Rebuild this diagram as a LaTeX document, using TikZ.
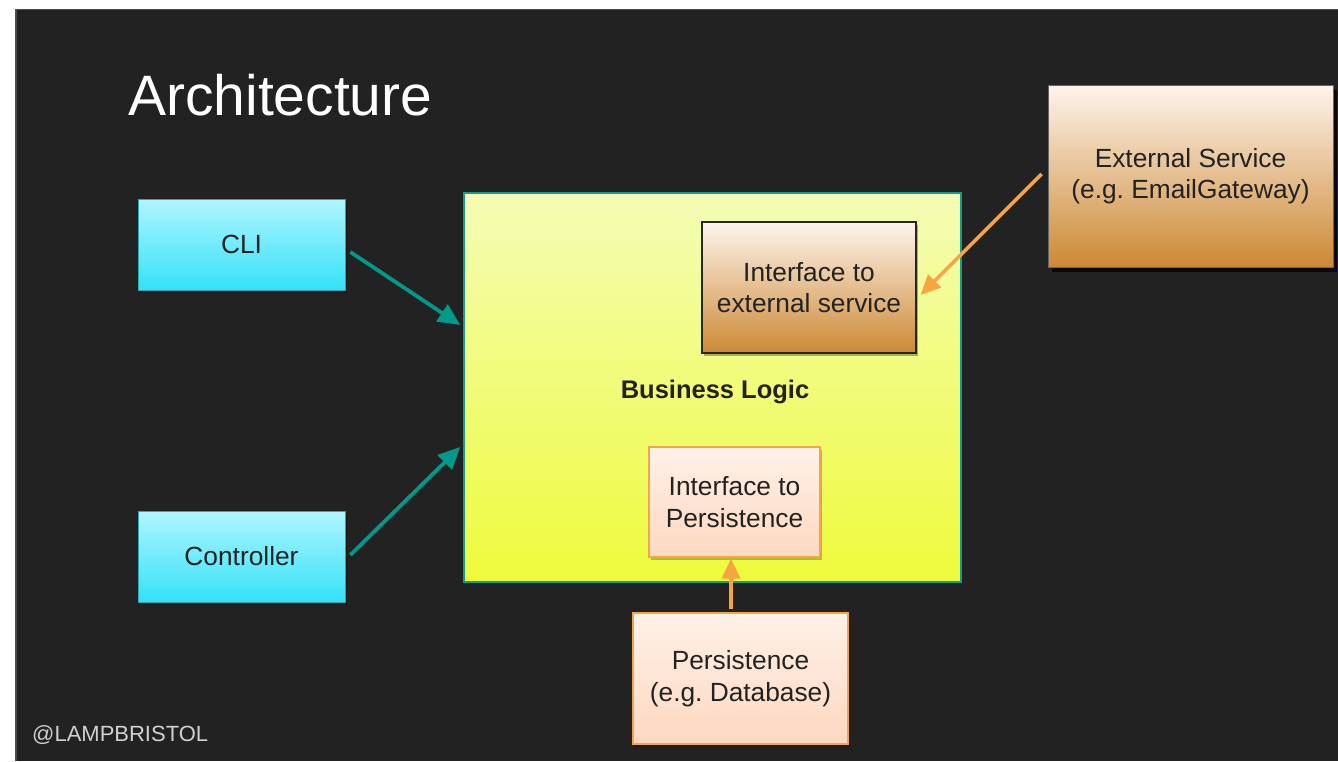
\documentclass[tikz,border=0pt]{standalone}
\usepackage{fontspec}
\setmainfont{Liberation Sans}
\frenchspacing
\usetikzlibrary{arrows.meta,shadows,calc}

\definecolor{slatebg}{HTML}{222222}
\definecolor{cyantop}{HTML}{B0F6FF}
\definecolor{cyanbot}{HTML}{33E1F7}
\definecolor{cyanline}{HTML}{2AA8B4}
\definecolor{limetop}{HTML}{F4FCB6}
\definecolor{limebot}{HTML}{EEFB3B}
\definecolor{tealline}{HTML}{149C8C}
\definecolor{tantop}{HTML}{FEF4EC}
\definecolor{tanbot}{HTML}{CC8934}
\definecolor{peachtop}{HTML}{FFF1E8}
\definecolor{peachbot}{HTML}{FDD8C0}
\definecolor{peachline}{HTML}{F4A44C}
\definecolor{tealarrow}{HTML}{00998A}
\definecolor{orangearrow}{HTML}{F9A443}
\definecolor{inktext}{HTML}{222222}

\tikzset{
  boxtext/.style={align=center, text=inktext, font=\fontsize{26.3}{31.5}\selectfont, inner sep=0pt},
  clientbox/.style={boxtext, draw=cyanline, line width=0.8pt, top color=cyantop, bottom color=cyanbot,
    drop shadow={shadow xshift=2pt, shadow yshift=-3pt, opacity=0.45, fill=black}},
  corebox/.style={draw=tealline, line width=1.5pt, top color=limetop, bottom color=limebot, inner sep=0pt},
  servicebox/.style={boxtext, top color=tantop, bottom color=tanbot},
  storebox/.style={boxtext, draw=peachline, line width=1.2pt, top color=peachtop, bottom color=peachbot,
    drop shadow={shadow xshift=2pt, shadow yshift=-3pt, opacity=0.25, fill=black}},
  tealflow/.style={draw=tealarrow, line width=3.8pt, -{Triangle[length=22pt,width=20pt]}},
  orangeflow/.style={draw=orangearrow, line width=3.5pt, -{Triangle[length=20pt,width=18pt]}},
}

\begin{document}
\begin{tikzpicture}[x=1pt,y=-1pt]
  \useasboundingbox (0,0) rectangle (1338,761);
  % slide background
  \fill[white] (0,0) rectangle (1338,761);
  \fill[slatebg] (16,9) rectangle (1338,761);
  \draw[black!70, line width=1.2pt] (16,761) -- (16,9.5) -- (1338,9.5);

  % heading and footer
  \node[anchor=base west, text=white, font=\fontsize{57}{60}\selectfont, inner sep=0pt]
    (title) at (128,115) {Architecture};
  \node[anchor=base west, text=black!18, font=\fontsize{22}{26}\selectfont, inner sep=0pt]
    (handle) at (32,741) {@LAMPBRISTOL};

  % callers
  \node[clientbox, minimum width=207pt, minimum height=91pt] (cli) at (241.5,244.5) {CLI};
  \node[clientbox, minimum width=207pt, minimum height=91pt] (ctrl) at (241.5,556.5) {Controller};

  % core
  \node[corebox, minimum width=497pt, minimum height=389pt] (core) at (712.5,387.5) {};
  \node[anchor=base, font=\bfseries\fontsize{25.5}{30}\selectfont, text=inktext, inner sep=0pt]
    (corelabel) at (715,398) {Business Logic};
  \node[servicebox, draw=black!85, line width=1.2pt, minimum width=214pt, minimum height=131pt,
    drop shadow={shadow xshift=2pt, shadow yshift=-3pt, opacity=0.3, fill=black}]
    (ifext) at (809,287.5) {Interface to\\external service};
  \node[storebox, minimum width=171pt, minimum height=110pt] (ifpers) at (734.5,502) {Interface to\\Persistence};

  % outside world
  \node[servicebox, draw=black!60, line width=0.8pt, minimum width=285pt, minimum height=182pt,
    drop shadow={shadow xshift=4pt, shadow yshift=-5pt, opacity=0.7, fill=black}]
    (ext) at (1190.5,176) {External Service\\(e.g. EmailGateway)};
  \node[storebox, minimum width=215pt, minimum height=131pt] (pers) at (740.5,678.5) {Persistence\\(e.g. Database)};

  % flows
  \draw[tealflow] ([xshift=5pt,yshift=-7.5pt]cli.east) -- ([xshift=-3pt,yshift=62.5pt]core.west);
  \draw[tealflow] ([xshift=5pt,yshift=1.5pt]ctrl.east) -- ([xshift=-3pt,yshift=-59.5pt]core.west);
  \draw[orangeflow] ([xshift=-6pt,yshift=2pt]ext.west) -- ([xshift=4pt,yshift=-7.5pt]ifext.east);
  \draw[orangeflow] ([xshift=-9.5pt,yshift=3pt]pers.north) -- ([xshift=-3.5pt,yshift=-1pt]ifpers.south);
\end{tikzpicture}
\end{document}
